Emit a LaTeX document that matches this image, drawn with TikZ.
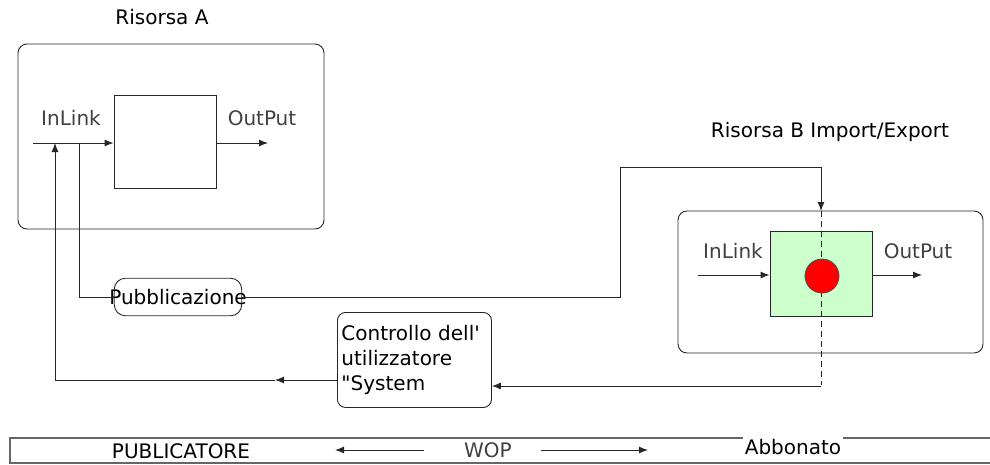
\documentclass[tikz,border=0pt]{standalone}
\usepackage{fontspec}
\setmainfont{DejaVu Sans}[Ligatures=TeXOff]
\usetikzlibrary{arrows.meta,positioning,calc}

\tikzset{
  linea/.style={line width=.9pt, draw=black!85},
  freccia/.style={linea, -{Latex[length=9pt,width=7pt]}},
  risorsa/.style={linea, rounded corners=9pt},
  blocco/.style={linea, minimum width=102pt, minimum height=93pt, inner sep=0pt},
  testo/.style={font=\fontsize{20}{25}\selectfont, inner sep=0pt},
  etichetta/.style={testo, text=black!75},
}

\begin{document}
\begin{tikzpicture}[x=1pt, y=-1pt]
\useasboundingbox (0,0) rectangle (990,464);

% Risorsa A
\node[testo] (titA) at (162,17) {Risorsa A};
\node[risorsa, minimum width=306pt, minimum height=185pt] (risA) at (171,136.5) {};
\node[blocco] (bloccoA) at (165,142) {};
\node[etichetta] (inA) at (71,118) {InLink};
\node[etichetta] (outA) at (262,118) {OutPut};
\coordinate (ingressoA) at (33,143);
\coordinate (uscitaA) at (268,143);
\draw[freccia] (ingressoA) -- (bloccoA.west |- ingressoA);
\draw[freccia] (bloccoA.east |- uscitaA) -- (uscitaA);

% Risorsa B
\node[testo] (titB) at (830,132) {Risorsa B Import/Export};
\node[risorsa, minimum width=305pt, minimum height=142pt] (risB) at (830.5,282) {};
\node[blocco, fill={rgb,255:red,204;green,255;blue,204}, minimum height=85pt] (bloccoB) at (821,273.5) {};
\node[etichetta] (inB) at (733,251) {InLink};
\node[etichetta] (outB) at (918,251) {OutPut};
\coordinate (ingressoB) at (698,275);
\coordinate (uscitaB) at (922,275);
\draw[freccia] (ingressoB) -- (bloccoB.west |- ingressoB);
\draw[freccia] (bloccoB.east |- uscitaB) -- (uscitaB);
\draw[linea, dashed, dash pattern=on 6pt off 4pt] (821,211) -- (821,385);
\node[circle, draw=black!70, line width=.8pt, fill=red, minimum size=34pt, inner sep=0pt] (punto) at (822,276) {};

% Pubblicazione
\node[testo, linea, draw, rounded corners=11pt, inner xsep=-5pt, inner ysep=11pt] (pubbl) at (178,297) {Pubblicazione};
\coordinate (giuntoA) at (79,143);
\coordinate (svolta) at (620,167);
\coordinate (arrivoB) at (821,211);
\draw[linea] (giuntoA) |- (pubbl.west);
\draw[freccia] (pubbl.east) -| (svolta) -| (arrivoB);

% Controllo
\node[testo, linea, draw, rounded corners=8pt, align=left, anchor=north west,
      minimum width=154pt, minimum height=95pt, text width=146pt, inner xsep=4pt, inner ysep=5pt] (controllo) at (337,312)
  {Controllo dell'\\utilizzatore\\"System};
\coordinate (ritornoB) at (821,386);
\coordinate (uscitaC) at (337,380);
\coordinate (mezzo) at (275,380);
\coordinate (ritornoA) at (55,143);
\draw[freccia] (ritornoB) -- (controllo.east |- ritornoB);
\draw[freccia] (uscitaC) -- (mezzo);
\draw[freccia] (mezzo) -| (ritornoA);

% barra in basso
\draw[linea, line width=1.2pt, draw=black!60] (990,438) -- (10,438) -- (10,463) -- (990,463);
\node[testo] (pub) at (181,451) {PUBLICATORE};
\node[etichetta] (wop) at (488,450) {WOP};
\node[testo, fill=white, inner xsep=2pt, inner ysep=3pt] (abb) at (793,447) {Abbonato};
\coordinate (frecciaSx) at (335,450);
\coordinate (frecciaDx) at (648,450);
\draw[freccia, shorten <=40pt] (wop.west) -- (frecciaSx);
\draw[freccia, shorten <=29pt] (wop.east) -- (frecciaDx);
\end{tikzpicture}
\end{document}
